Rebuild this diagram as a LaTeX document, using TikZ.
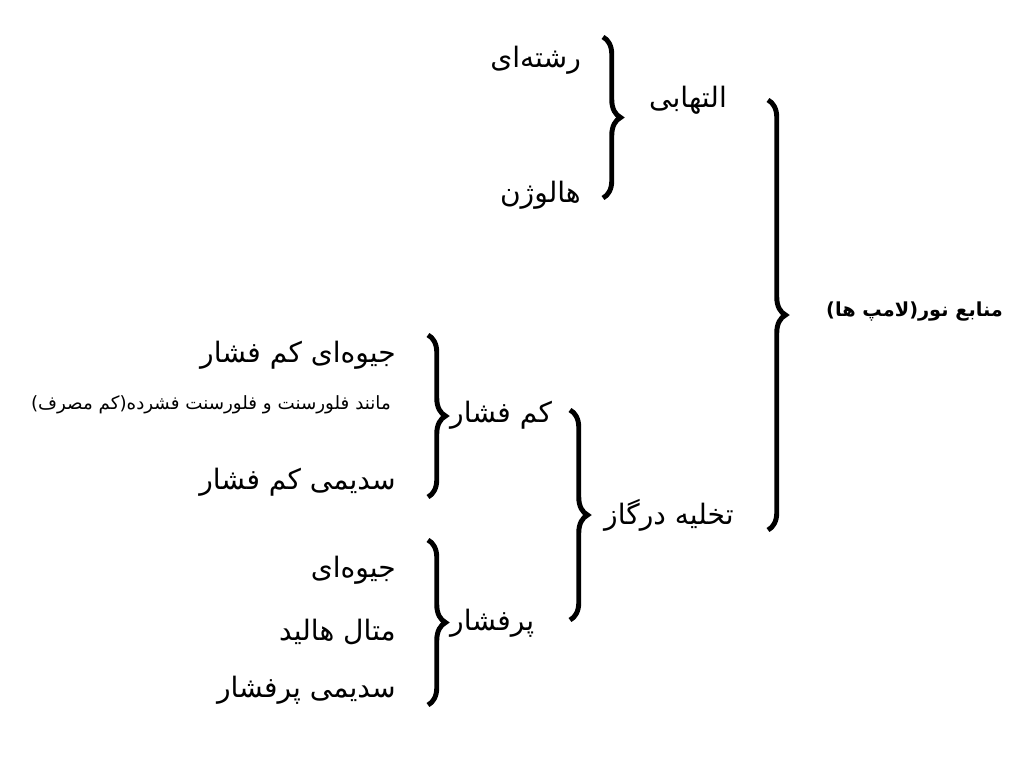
\documentclass[tikz,border=0pt]{standalone}
\usepackage{fontspec}
\usetikzlibrary{decorations.pathreplacing}
\newfontfamily\farsi[Script=Arabic]{DejaVu Sans}
\TeXXeTstate=1
\newcommand{\fa}[1]{{\farsi\beginR #1\endR}}
\tikzset{
  lbl/.style={inner sep=1pt, font=\fontsize{8}{10}\selectfont},
  note/.style={inner sep=1pt, font=\fontsize{5.2}{6}\selectfont},
  rootlbl/.style={inner sep=1pt, font=\fontsize{5.5}{7}\selectfont\bfseries},
  rbrace/.style={decorate, decoration={brace, amplitude=5pt, aspect=0.5}, line width=1.4pt}
}
\begin{document}
\begin{tikzpicture}
    \useasboundingbox (0,0) rectangle (10.24,-7.59);
    \coordinate (t0) at (7.68,-1.00); \coordinate (b0) at (7.68,-5.30);
    \coordinate (t1) at (6.03,-0.37); \coordinate (b1) at (6.03,-1.98);
    \coordinate (t2) at (5.70,-4.10); \coordinate (b2) at (5.70,-6.20);
    \coordinate (t3) at (4.28,-3.35); \coordinate (b3) at (4.28,-4.97);
    \coordinate (t4) at (4.28,-5.40); \coordinate (b4) at (4.28,-7.05);
    \draw[rbrace] (t0) -- (b0);
    \draw[rbrace] (t1) -- (b1);
    \draw[rbrace] (t2) -- (b2);
    \draw[rbrace] (t3) -- (b3);
    \draw[rbrace] (t4) -- (b4);
    \node[rootlbl, anchor=west] (manabe) at (8.22,-3.12) {\fa{منابع نور(لامپ ها)}};
    \node[lbl, anchor=west] (eltehabi) at (6.45,-1.00) {\fa{التهابی}};
    \node[lbl, anchor=west] (takhlie) at (6.00,-5.15) {\fa{تخلیه درگاز}};
    \node[lbl, anchor=east] (reshte) at (5.85,-0.60) {\fa{رشته‌ای}};
    \node[lbl, anchor=east] (halozhen) at (5.85,-1.95) {\fa{هالوژن}};
    \node[lbl, anchor=west] (kamfeshar) at (4.46,-4.15) {\fa{کم فشار}};
    \node[lbl, anchor=west] (porfeshar) at (4.46,-6.23) {\fa{پرفشار}};
    \node[lbl, anchor=east] (jive1) at (4.00,-3.55) {\fa{جیوه‌ای کم فشار}};
    \node[note, anchor=east] (manand) at (3.95,-4.05) {\fa{مانند فلورسنت و فلورسنت فشرده(کم مصرف)}};
    \node[lbl, anchor=east] (sodimi1) at (4.00,-4.82) {\fa{سدیمی کم فشار}};
    \node[lbl, anchor=east] (jive2) at (4.00,-5.70) {\fa{جیوه‌ای}};
    \node[lbl, anchor=east] (metal) at (4.00,-6.32) {\fa{متال هالید}};
    \node[lbl, anchor=east] (sodimi2) at (4.00,-6.90) {\fa{سدیمی پرفشار}};
\end{tikzpicture}
\end{document}
